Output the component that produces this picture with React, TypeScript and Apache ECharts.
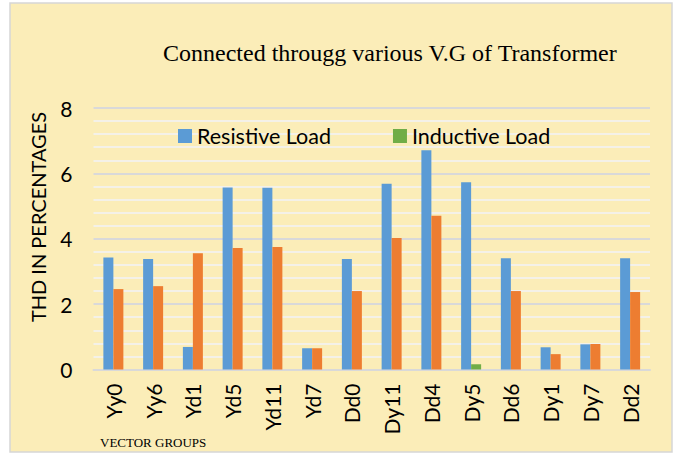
import React, { useEffect, useRef } from "react";
import * as echarts from "echarts";

const categories = ["Yy0", "Yy6", "Yd1", "Yd5", "Yd11", "Yd7", "Dd0", "Dy11", "Dd4", "Dy5", "Dd6", "Dy1", "Dy7", "Dd2"];
const resistiveLoad = [3.43, 3.38, 0.69, 5.57, 5.56, 0.65, 3.38, 5.68, 6.71, 5.73, 3.4, 0.68, 0.77, 3.4];
const inductiveLoad = [2.46, 2.55, 3.56, 3.72, 3.75, 0.65, 2.4, 4.02, 4.7, 0.16, 2.4, 0.47, 0.78, 2.37];
const inductiveHighlight = ["Dy5"];
const yTicks = { min: 0, max: 8, interval: 2 };

const BLUE = "#5B9BD5";
const ORANGE = "#ED7D31";
const GREEN = "#70AD47";
const BG = "#FBEDB8";

export default function App() {
  const ref = useRef<HTMLDivElement>(null);
  useEffect(() => {
    if (!ref.current) return;
    const chart = echarts.init(ref.current, null, { renderer: "svg" });
    chart.setOption({
      animation: false,
      backgroundColor: "#ffffff",
      graphic: [
        {
          type: "rect",
          shape: { x: 10, y: 3, width: 662, height: 449 },
          style: { fill: BG, stroke: "#D6D6D6", lineWidth: 1.5 },
          z: -10,
          silent: true,
        },
        {
          type: "text",
          x: 38,
          y: 217,
          rotation: Math.PI / 2,
          style: {
            text: "THD IN PERCENTAGES",
            fontFamily: "Lato",
            fontSize: 20,
            fill: "#000",
            align: "center",
            verticalAlign: "middle",
          },
        },
        {
          type: "text",
          x: 100,
          y: 442,
          style: {
            text: "VECTOR GROUPS",
            fontFamily: "Liberation Serif",
            fontSize: 13,
            fill: "#000",
            align: "left",
            verticalAlign: "middle",
          },
        },
      ],
      title: {
        text: "Connected througg various V.G of Transformer",
        left: 158,
        top: 36,
        textStyle: { fontFamily: "Liberation Serif", fontSize: 24, fontWeight: "normal", color: "#000" },
      },
      legend: {
        data: ["Resistive Load", "Inductive Load"],
        left: 173,
        top: 120,
        itemWidth: 14,
        itemHeight: 14,
        itemGap: 62,
        icon: "rect",
        textStyle: { fontFamily: "Lato", fontSize: 21.5, color: "#000" },
      },
      grid: { left: 93.5, right: 32, top: 108, bottom: 87.5 },
      xAxis: {
        type: "category",
        data: categories,
        axisLine: { show: true, lineStyle: { color: "#D9D9D9", width: 2 } },
        axisTick: { show: false },
        axisLabel: { rotate: 90, margin: 14, fontFamily: "Lato", fontSize: 21, color: "#000", interval: 0 },
      },
      yAxis: {
        type: "value",
        min: yTicks.min,
        max: yTicks.max,
        interval: yTicks.interval,
        axisLine: { show: false },
        axisTick: { show: false },
        axisLabel: { margin: 21, fontFamily: "Lato", fontSize: 21, color: "#000" },
        splitLine: { show: true, lineStyle: { color: "#D9D9D9", width: 2 } },
        minorTick: { show: false, splitNumber: 5 },
        minorSplitLine: { show: true, lineStyle: { color: "#F4F1E8", width: 2 } },
      },
      series: [
        {
          name: "Resistive Load",
          type: "bar",
          data: resistiveLoad,
          barWidth: 10,
          barGap: "0%",
          itemStyle: { color: BLUE },
        },
        {
          name: "Inductive Load",
          type: "bar",
          barWidth: 10,
          barGap: "0%",
          itemStyle: { color: GREEN },
          data: inductiveLoad.map((v, i) => ({
            value: v,
            itemStyle: { color: inductiveHighlight.includes(categories[i]) ? GREEN : ORANGE },
          })),
        },
      ],
    });
    return () => chart.dispose();
  }, []);
  return (
    <div style={{ position: "fixed", left: 0, top: 0, width: 682, height: 457, background: "#fff" }}>
      <div ref={ref} style={{ width: 682, height: 457 }} />
    </div>
  );
}
